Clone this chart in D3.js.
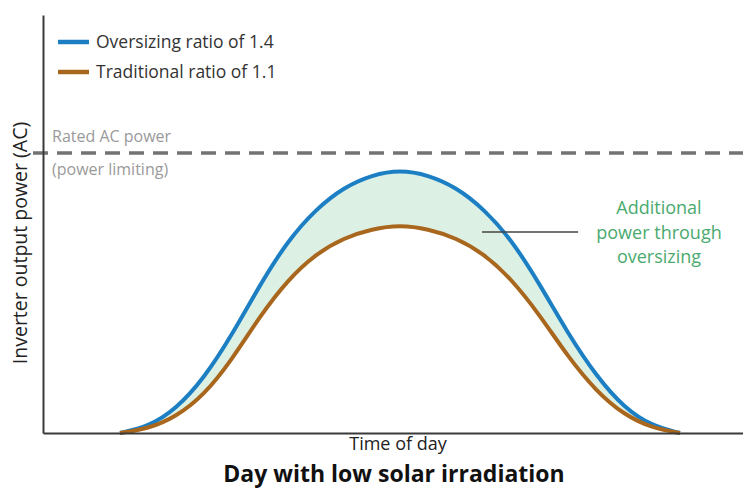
<!DOCTYPE html>
<html>
<head>
<meta charset="utf-8">
<script src="https://cdn.jsdelivr.net/npm/d3@7"></script>
<style>
html,body{margin:0;padding:0;background:#fff;}
svg{display:block;}
</style>
</head>
<body>
<svg id="chart" width="743" height="488"></svg>
<script>
// Data (time of day in hours, output relative to rated AC power = 1)
const hours = [2,3,4,5,6,7,8,9,10,11,12,13,14,15,16,17,18,19,20,21,22];
const oversized = [0,0.022,0.085,0.195,0.35,0.53,0.688,0.80,0.878,0.922,0.94,0.922,0.878,0.80,0.688,0.53,0.355,0.205,0.09,0.025,0];
const traditional = [0,0.015,0.058,0.135,0.262,0.418,0.548,0.64,0.697,0.729,0.743,0.729,0.697,0.64,0.548,0.42,0.272,0.15,0.065,0.018,0];
const ratedPower = 1.0;
const seriesNames = ["Oversizing ratio of 1.4","Traditional ratio of 1.1"];
const seriesColors = ["#1c7fc3","#a9661d"];
const ratedLabel = ["Rated AC power","(power limiting)"];
const annotationLines = ["Additional","power through","oversizing"];
const yTitle = "Inverter output power (AC)";
const xTitle = "Time of day";
const chartTitle = "Day with low solar irradiation";

const svg = d3.select("#chart");
const font = "'Open Sans', 'Noto Sans', sans-serif";

const x = d3.scaleLinear().domain([-0.75, 24.25]).range([43, 743]);
const y = d3.scaleLinear().domain([0, 1]).range([433, 153]);

const rows = hours.map((h,i)=>({h, a: oversized[i], b: traditional[i]}));
const curve = d3.curveBasis;

// fill between curves
const area = d3.area()
  .x(d=>x(d.h)).y0(d=>y(d.b)).y1(d=>y(d.a))
  .curve(curve);
svg.append("path").datum(rows).attr("d", area).attr("fill","#dcf0e4");

// Rated AC power dashed line
svg.append("line")
  .attr("x1", 33).attr("x2", 743)
  .attr("y1", y(ratedPower)).attr("y2", y(ratedPower))
  .attr("stroke","#737373").attr("stroke-width",3.5)
  .attr("stroke-dasharray","15,9");

svg.append("text").attr("x",52).attr("y",y(ratedPower)-11)
  .attr("font-family",font).attr("font-size",16).attr("fill","#9a9a9a")
  .text(ratedLabel[0]);
svg.append("text").attr("x",52).attr("y",y(ratedPower)+22)
  .attr("font-family",font).attr("font-size",16).attr("fill","#9a9a9a")
  .text(ratedLabel[1]);

// curves
const lineA = d3.line().x(d=>x(d.h)).y(d=>y(d.a)).curve(curve);
const lineB = d3.line().x(d=>x(d.h)).y(d=>y(d.b)).curve(curve);
svg.append("path").datum(rows).attr("d", lineA).attr("fill","none")
  .attr("stroke",seriesColors[0]).attr("stroke-width",4);
svg.append("path").datum(rows).attr("d", lineB).attr("fill","none")
  .attr("stroke",seriesColors[1]).attr("stroke-width",4);

// axes
const xAxis = d3.axisBottom(x).tickValues([]).tickSizeOuter(0);
svg.append("g").attr("transform","translate(0,433)").call(xAxis)
  .select(".domain").attr("stroke","#3a3a3a").attr("stroke-width",2);
const yAxis = d3.axisLeft(y.copy().range([433,15])).tickValues([]).tickSizeOuter(0);
svg.append("g").attr("transform","translate(43,0)").call(yAxis)
  .select(".domain").attr("stroke","#3a3a3a").attr("stroke-width",2);

// legend
seriesNames.forEach((n,i)=>{
  const ly = 42 + i*30;
  svg.append("line").attr("x1",58).attr("x2",89).attr("y1",ly).attr("y2",ly)
    .attr("stroke",seriesColors[i]).attr("stroke-width",4.5);
  svg.append("text").attr("x",96).attr("y",ly+6)
    .attr("font-family",font).attr("font-size",17.5).attr("fill","#333")
    .text(n);
});

// annotation
const annY = 0.718;
svg.append("line").attr("x1",x(14.93)).attr("x2",x(18.36))
  .attr("y1",y(annY)).attr("y2",y(annY))
  .attr("stroke","#444").attr("stroke-width",1.5);
annotationLines.forEach((t,i)=>{
  svg.append("text").attr("x",659).attr("y",214+i*24.5)
    .attr("text-anchor","middle")
    .attr("font-family",font).attr("font-size",18).attr("fill","#4aaa6e")
    .text(t);
});

// axis titles
svg.append("text")
  .attr("transform","translate(27,243) rotate(-90)")
  .attr("text-anchor","middle")
  .attr("font-family",font).attr("font-size",19.5).attr("fill","#222")
  .text(yTitle);
svg.append("text").attr("x",398).attr("y",450).attr("text-anchor","middle")
  .attr("font-family",font).attr("font-size",18).attr("fill","#222")
  .text(xTitle);
svg.append("text").attr("x",394).attr("y",482).attr("text-anchor","middle")
  .attr("font-family",font).attr("font-size",23).attr("font-weight","bold").attr("fill","#111")
  .text(chartTitle);
</script>
</body>
</html>
